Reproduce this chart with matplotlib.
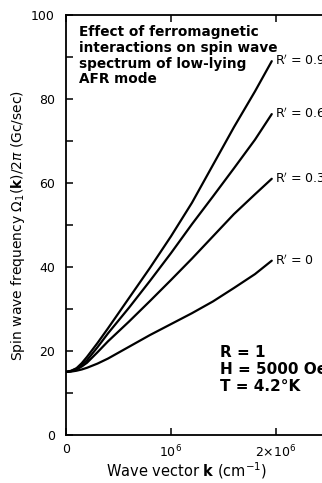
import numpy as np
import matplotlib
matplotlib.use("Agg")
import matplotlib.pyplot as plt

# wave vector k (units of 1e6 cm^-1) and spin wave frequency (Gc/sec)
k = [0, 0.05, 0.1, 0.15, 0.2, 0.3, 0.4, 0.6, 0.8, 1.0, 1.2, 1.4, 1.6, 1.8, 1.96]
f_r00 = [15, 15.1, 15.3, 15.6, 16.0, 17.0, 18.2, 21.0, 23.8, 26.4, 29.0,
         31.8, 35.0, 38.3, 41.5]
f_r03 = [15, 15.2, 15.6, 16.3, 17.2, 19.7, 22.3, 27.0, 31.9, 36.9, 42.0,
         47.3, 52.6, 57.3, 61.0]
f_r06 = [15, 15.25, 15.8, 16.7, 17.8, 20.9, 24.2, 30.3, 36.7, 43.3, 50.2,
         56.8, 63.5, 70.3, 76.4]
f_r09 = [15, 15.3, 15.9, 17.1, 18.6, 21.9, 25.4, 32.6, 39.8, 47.3, 55.3,
         64.3, 73.3, 81.8, 89.0]
series = [(f_r00, "R$'$ = 0"), (f_r03, "R$'$ = 0.3"),
          (f_r06, "R$'$ = 0.6"), (f_r09, "R$'$ = 0.9")]

fig = plt.figure(figsize=(3.22, 4.83), dpi=100)
ax = fig.add_axes([0.205, 0.0994, 0.815, 0.8696])

kk = np.array(k) * 1e6
for f, lab in series:
    ax.plot(kk, f, color="black", lw=1.6, solid_capstyle="round",
            solid_joinstyle="round")
    ax.text(kk[-1] + 0.035e6, f[-1], lab, fontsize=9, va="center", ha="left")

ax.set_xlim(0, 2.5e6)
ax.set_ylim(0, 100)
ax.spines["right"].set_visible(False)
for s in ["left", "bottom", "top"]:
    ax.spines[s].set_linewidth(1.3)

ax.set_yticks(np.arange(0, 101, 10))
ax.set_yticklabels([str(v) if v % 20 == 0 else "" for v in range(0, 101, 10)])
ax.set_xticks([0, 1e6, 2e6])
ax.set_xticklabels(["0", "10$^6$", r"2$\times$10$^6$"])
ax.tick_params(direction="in", length=5, width=1.1, labelsize=9, top=True,
               right=False)
ax.tick_params(axis="y", pad=8)
ax.tick_params(axis="x", pad=6)

ax.set_ylabel(r"Spin wave frequency $\Omega_1(\mathbf{k})/2\pi$ (Gc/sec)",
              fontsize=10)
ax.yaxis.set_label_coords(-0.15, 0.5)
ax.set_xlabel(r"Wave vector $\mathbf{k}$ (cm$^{-1}$)", fontsize=10.5)
ax.xaxis.set_label_coords(0.46, -0.06)

ax.text(0.05, 0.975, "Effect of ferromagnetic\ninteractions on spin wave\n"
        "spectrum of low-lying\nAFR mode", transform=ax.transAxes,
        fontsize=9.8, fontweight="bold", va="top", ha="left", linespacing=1.15)
ax.text(0.585, 0.215, "R = 1\nH = 5000 Oe\nT = 4.2°K", transform=ax.transAxes,
        fontsize=11, fontweight="bold", va="top", ha="left", linespacing=1.2)

fig.savefig("out.png", dpi=100)
